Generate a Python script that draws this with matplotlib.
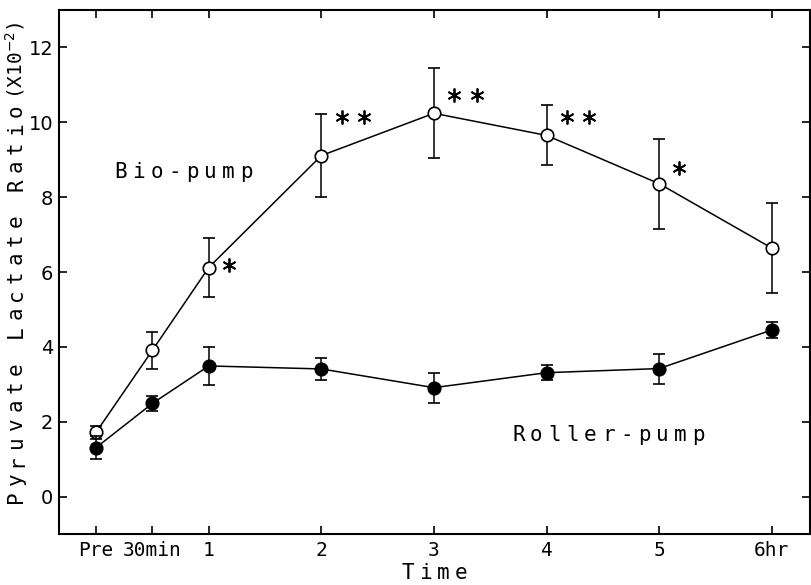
import matplotlib
matplotlib.use("Agg")
import matplotlib.pyplot as plt

# --- data ---
hours = [0, 0.5, 1, 2, 3, 4, 5, 6]
tick_labels = ["Pre", "30min", "1", "2", "3", "4", "5", "6hr"]

bio_mean = [1.72, 3.91, 6.12, 9.11, 10.24, 9.65, 8.36, 6.64]
bio_sd = [0.17, 0.50, 0.80, 1.10, 1.20, 0.80, 1.20, 1.20]

roller_mean = [1.31, 2.49, 3.49, 3.41, 2.91, 3.31, 3.42, 4.45]
roller_sd = [0.30, 0.20, 0.50, 0.30, 0.40, 0.20, 0.40, 0.22]

sig_marks = ["", "", "*", "**", "**", "**", "*", ""]
sig_y = [None, None, 6.18, 10.13, 10.73, 10.13, 8.77, None]

MONO = ["DejaVu Sans Mono", "DejaVu Sans"]
DPI = 100

fig = plt.figure(figsize=(8.12, 5.85), dpi=DPI)
ax = fig.add_axes([59 / 812, 1 - 534 / 585, (810 - 59) / 812, (534 - 10) / 585])


def spaced_text(ax, s, xy, step_px, coords, rotation=0, center=False, **kw):
    # typewriter-like letter spacing: one annotation per character
    step = step_px * 72 / DPI
    shift = (len(s) - 1) / 2 if center else 0
    for i, ch in enumerate(s):
        d = (i - shift) * step
        off = (d, 0) if rotation == 0 else (0, d)
        ax.annotate(ch, xy, xycoords=coords, xytext=off, textcoords="offset points",
                    ha="center", va="center", rotation=rotation, family=MONO,
                    annotation_clip=False, **kw)


# series
ax.errorbar(hours, bio_mean, yerr=bio_sd, color="k", lw=1.1, elinewidth=1.1,
            capsize=4, capthick=1.1, marker="o", ms=9, mfc="white", mec="k",
            mew=1.2, zorder=3)
ax.errorbar(hours, roller_mean, yerr=roller_sd, color="k", lw=1.1, elinewidth=1.1,
            capsize=4, capthick=1.1, marker="o", ms=9, mfc="k", mec="k",
            mew=1.2, zorder=4)

# significance asterisks
for h, m, y in zip(hours, sig_marks, sig_y):
    for k in range(len(m)):
        ax.plot(h + 0.18 + k * 0.2, y, linestyle="none", marker=(6, 2, 0),
                ms=10, mew=1.3, color="k", zorder=5)

# series labels
spaced_text(ax, "Bio-pump", (0.216, 8.67), 18, "data", fontsize=15)
spaced_text(ax, "Roller-pump", (3.75, 1.65), 18, "data", fontsize=15)

# axes styling
ax.set_xlim(-0.33, 6.34)
ax.set_ylim(-1, 13)
ax.set_xticks(hours)
ax.set_xticklabels(tick_labels, family=MONO, fontsize=14)
ax.set_yticks([0, 2, 4, 6, 8, 10, 12])
ax.tick_params(axis="y", labelsize=14, pad=4)
ax.tick_params(axis="x", pad=5)
ax.tick_params(direction="in", length=6, width=1.2, top=True, right=True)
for sp in ax.spines.values():
    sp.set_linewidth(1.5)

# axis titles
spaced_text(ax, "Time", (0.5 * (59 + 810) / 812, 1 - 573 / 585), 17.7,
            "figure fraction", center=True, fontsize=15)
spaced_text(ax, "Pyruvate Lactate Ratio", (16 / 812, 1 - 497 / 585), 18.4,
            "figure fraction", rotation=90, fontsize=15)
fig.text(15 / 812, 1 - 99 / 585, "(X10$^{-2}$)", rotation=90, ha="center",
         va="bottom", family=MONO, fontsize=14)

fig.savefig("out.png", dpi=DPI)
